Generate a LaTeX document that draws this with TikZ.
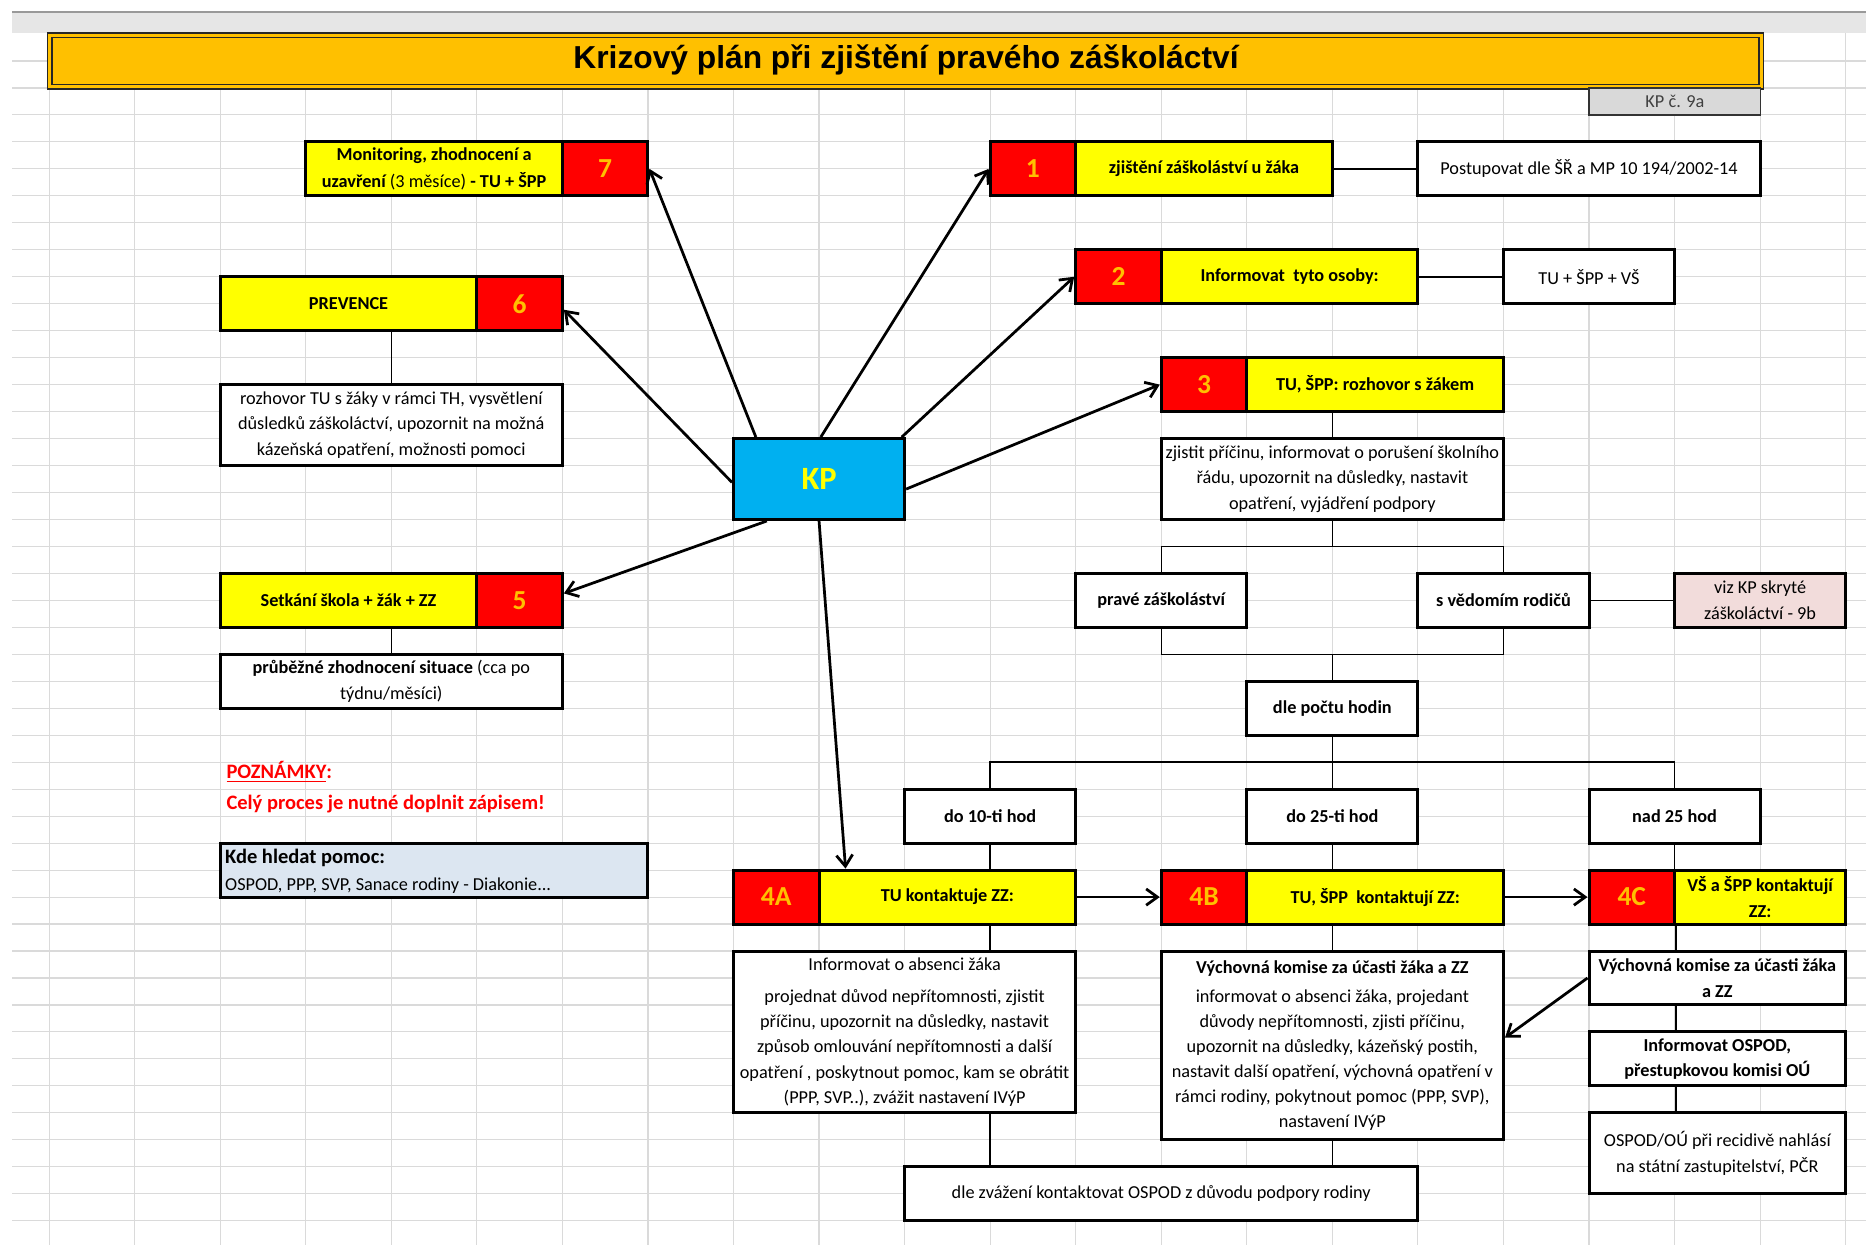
\documentclass[tikz,border=0pt]{standalone}
\usepackage{fontspec}
\setmainfont{Carlito}
\newfontfamily\titlefont{Liberation Sans}
\usetikzlibrary{arrows.meta,calc}
\definecolor{cyel}{HTML}{FFFF00}
\definecolor{cred}{HTML}{FF0000}
\definecolor{corange}{HTML}{FFC000}
\definecolor{ckp}{HTML}{00B0F0}
\definecolor{cpink}{HTML}{F2DCDB}
\definecolor{chelp}{HTML}{DCE6F1}
\definecolor{cgray}{HTML}{D9D9D9}
\definecolor{gridc}{HTML}{DADADA}
\definecolor{cband}{HTML}{E6E6E6}
\pgfdeclarelayer{bg}
\pgfsetlayers{bg,main}
\newcommand\gx[1]{49.1+85.55*(#1)}
\newcommand\gy[1]{61+26.97*(#1)}
\newcommand\cellnode[7]{\node[#2, minimum width={34.22pt*((#5)-(#3))}, minimum height={10.788pt*((#6)-(#4))}] (#1) at ({49.1+85.55*((#3)+(#5))/2},{61+26.97*((#4)+(#6))/2}) {#7};}
\tikzset{
 gridline/.style={draw=gridc, line width=0.45pt},
 bx/.style={draw=black, line width=1.2pt, fill=white, inner sep=0pt, align=center, font=\fontsize{7.3}{10.2}\selectfont},
 bxb/.style={bx, font=\fontsize{7.3}{10.2}\selectfont\bfseries},
 yb/.style={bx, fill=cyel, font=\fontsize{7.3}{10.5}\selectfont\bfseries},
 rb/.style={bx, fill=cred, text=corange, font=\fontsize{11}{13}\selectfont\bfseries},
 conn/.style={draw=black, line width=0.6pt},
 arr/.style={draw=black, line width=1.1pt, -{Straight Barb[length=4.5pt,width=6.5pt]}},
}
\begin{document}
\begin{tikzpicture}[x=0.4pt,y=-0.4pt]
\useasboundingbox (0,0) rectangle (1866,1245);
% title
\node[draw=black!85, line width=0.6pt, double=corange, double distance=1.2pt, fill=corange, minimum width=684.4pt, minimum height=20.6pt, inner sep=0pt] (titlebox) at (905.5,61.25) {};
\node[font=\titlefont\fontsize{12.7}{14}\selectfont\bfseries, inner sep=0pt] (title) at (906,60) {Krizový plán při zjištění pravého záškoláctví};
\node[draw=black!80, line width=0.7pt, fill=cgray, minimum width=68.44pt, minimum height=10.8pt, inner sep=0pt, text=black!75, font=\fontsize{7.3}{9}\selectfont] (kp9a) at (1674.9,101.5) {KP č. 9a};
% left column
\cellnode{y7}{yb}{3}{3}{6}{5}{Monitoring, zhodnocení a\\uzavření {\mdseries(3 měsíce)} - TU + ŠPP}
\cellnode{n7}{rb}{6}{3}{7}{5}{7}
\cellnode{y6}{yb}{2}{8}{5}{10}{PREVENCE}
\cellnode{n6}{rb}{5}{8}{6}{10}{6}
\cellnode{t6}{bx}{2}{12}{6}{15}{rozhovor TU s žáky v rámci TH, vysvětlení\\důsledků záškoláctví, upozornit na možná\\kázeňská opatření, možnosti pomoci}
\cellnode{y5}{yb}{2}{19}{5}{21}{Setkání škola + žák + ZZ}
\cellnode{n5}{rb}{5}{19}{6}{21}{5}
\cellnode{t5}{bx}{2}{22}{6}{24}{\textbf{průběžné zhodnocení situace} (cca po\\týdnu/měsíci)}
\node[anchor=west, inner sep=0pt, text=cred, font=\fontsize{8.2}{10}\selectfont\bfseries] (poz) at (226,772) {\underline{POZNÁMKY}:};
\node[anchor=west, inner sep=0pt, text=cred, font=\fontsize{8.2}{10}\selectfont\bfseries] (cely) at (226,804) {Celý proces je nutné doplnit zápisem!};
\cellnode{help}{bx, fill=chelp}{2}{29}{7}{31}{}
\node[anchor=west, inner sep=0pt, font=\fontsize{8.2}{10}\selectfont\bfseries] (helph) at ($(help.west)+(6,-12)$) {Kde hledat pomoc:};
\node[anchor=west, inner sep=0pt, font=\fontsize{7.3}{10}\selectfont] (helpt) at ($(help.west)+(6,16)$) {OSPOD, PPP, SVP, Sanace rodiny - Diakonie...};
% KP
\cellnode{kp}{bx, fill=ckp, text=cyel, font=\fontsize{13}{15}\selectfont\bfseries}{8}{14}{10}{17}{KP}
% right side
\cellnode{n1}{rb}{11}{3}{12}{5}{1}
\cellnode{y1}{yb}{12}{3}{15}{5}{zjištění záškoláství u žáka}
\cellnode{p1}{bx}{16}{3}{20}{5}{Postupovat dle ŠŘ a MP 10 194/2002-14}
\cellnode{n2}{rb}{12}{7}{13}{9}{2}
\cellnode{y2}{yb}{13}{7}{16}{9}{Informovat~ tyto osoby:}
\cellnode{p2}{bx}{17}{7}{19}{9}{TU + ŠPP + VŠ}
\cellnode{n3}{rb}{13}{11}{14}{13}{3}
\cellnode{y3}{yb}{14}{11}{17}{13}{TU, ŠPP: rozhovor s žákem}
\cellnode{t3}{bx}{13}{14}{17}{17}{zjistit příčinu, informovat o porušení školního\\řádu, upozornit na důsledky, nastavit\\opatření, vyjádření podpory}
\cellnode{pz}{bxb}{12}{19}{14}{21}{pravé záškoláství}
\cellnode{sv}{bxb}{16}{19}{18}{21}{s vědomím rodičů}
\cellnode{viz}{bx, fill=cpink, font=\fontsize{7.3}{10.5}\selectfont}{19}{19}{21}{21}{viz KP skryté\\záškoláctví - 9b}
\cellnode{dph}{bxb}{14}{23}{16}{25}{dle počtu hodin}
\cellnode{h10}{bxb}{10}{27}{12}{29}{do 10-ti hod}
\cellnode{h25}{bxb}{14}{27}{16}{29}{do 25-ti hod}
\cellnode{h25n}{bxb}{18}{27}{20}{29}{nad 25 hod}
\cellnode{n4a}{rb}{8}{30}{9}{32}{4A}
\cellnode{y4a}{yb}{9}{30}{12}{32}{TU kontaktuje ZZ:}
\cellnode{n4b}{rb}{13}{30}{14}{32}{4B}
\cellnode{y4b}{yb}{14}{30}{17}{32}{TU, ŠPP~ kontaktují ZZ:}
\cellnode{n4c}{rb}{18}{30}{19}{32}{4C}
\cellnode{y4c}{yb}{19}{30}{21}{32}{VŠ a ŠPP kontaktují\\ZZ:}
\cellnode{s4a}{bx, font=\fontsize{7.3}{10.1}\selectfont}{8}{33}{12}{39}{Informovat o absenci žáka\\[2.8pt]projednat důvod nepřítomnosti, zjistit\\příčinu, upozornit na důsledky, nastavit\\způsob omlouvání nepřítomnosti a další\\opatření , poskytnout pomoc, kam se obrátit\\(PPP, SVP..), zvážit nastavení IVýP}
\cellnode{s4b}{bx, font=\fontsize{7.3}{10}\selectfont}{13}{33}{17}{40}{\textbf{Výchovná komise za účasti žáka a ZZ}\\[1.8pt]informovat o absenci žáka, projedant\\důvody nepřítomnosti, zjisti příčinu,\\upozornit na důsledky, kázeňský postih,\\nastavit další opatření, výchovná opatření v\\rámci rodiny, pokytnout pomoc (PPP, SVP),\\nastavení IVýP}
\cellnode{s4c1}{bxb, font=\fontsize{7.3}{10.5}\selectfont\bfseries}{18}{33}{21}{35}{Výchovná komise za účasti žáka\\a ZZ}
\cellnode{s4c2}{bxb, font=\fontsize{7.3}{10}\selectfont\bfseries}{18}{36}{21}{38}{Informovat OSPOD,\\přestupkovou komisi OÚ}
\cellnode{s4c3}{bx, font=\fontsize{7.3}{10.5}\selectfont}{18}{39}{21}{42}{OSPOD/OÚ při recidivě nahlásí\\na státní zastupitelství, PČR}
\cellnode{dz}{bx}{10}{41}{16}{43}{dle zvážení kontaktovat OSPOD z důvodu podpory rodiny}
% background: grid, band, thin connectors
\begin{pgfonlayer}{bg}
\foreach \k in {0,...,21} \draw[gridline] ({\gx{\k}},33) -- ({\gx{\k}},1245);
\foreach \j in {0,...,43} \draw[gridline] (12,{\gy{\j}}) -- (1866,{\gy{\j}});
\fill[cband] (12,12) rectangle (1866,33);
\draw[draw=black!40, line width=0.8pt] (12,12) -- (1866,12);
\draw[conn] (y1.east) -- (p1.west);
\draw[conn] (y2.east) -- (p2.west);
\draw[conn] (t6.north) -- (t6.north |- y6.south);
\draw[conn] (t5.north) -- (t5.north |- y5.south);
\draw[conn] (t3.north) -- (t3.north |- y3.south);
\coordinate (b1) at ({\gx{15}},{\gy{18}});
\draw[conn] (t3.south) -- (b1);
\draw[conn] (pz.north) |- (b1);
\draw[conn] (sv.north) |- (b1);
\draw[conn] (sv.east) -- (viz.west);
\coordinate (b2) at ({\gx{15}},{\gy{22}});
\draw[conn] (pz.south) |- (b2);
\draw[conn] (sv.south) |- (b2);
\draw[conn] (b2) -- (dph.north);
\coordinate (b3) at ({\gx{15}},{\gy{26}});
\draw[conn] (dph.south) -- (h25.north);
\draw[conn] (h10.north) |- (b3);
\draw[conn] (h25n.north) |- (b3);
\draw[conn] (h10.south) -- (h10.south |- y4a.north);
\draw[conn] (h25.south) -- (h25.south |- y4b.north);
\draw[conn] (h25n.south) -- (h25n.south |- y4c.north);
\draw[conn] (h10.south |- y4a.south) -- (h10.south |- s4a.north);
\draw[conn] (h25.south |- y4b.south) -- (h25.south |- s4b.north);
\draw[conn] (n4c.south east) -- (n4c.south east |- s4c1.north);
\draw[conn] (n4c.south east |- s4c1.south) -- (n4c.south east |- s4c2.north);
\draw[conn] (n4c.south east |- s4c2.south) -- (n4c.south east |- s4c3.north);
\draw[conn] (h10.south |- s4a.south) -- (h10.south |- dz.north);
\draw[conn] (s4b.south) -- (s4b.south |- dz.north);
\end{pgfonlayer}
% thick arrows
\draw[arr] ($(kp.north west)!0.137!(kp.north east)$) -- (n7.east);
\draw[arr] ($(kp.north west)!0.54!(kp.south west)$) -- ($(n6.east)+(0,6)$);
\draw[arr] ($(kp.south west)!0.2!(kp.south east)$) -- ($(n5.east)+(0,-7)$);
\draw[arr] ($(kp.north west)!0.51!(kp.north east)$) -- (n1.west);
\draw[arr] ($(kp.north west)!0.975!(kp.north east)$) -- (n2.west);
\draw[arr] ($(kp.north east)!0.62!(kp.south east)$) -- (n3.west);
\draw[arr] (kp.south) -- ($(y4a.north west)+(28,0)$);
\draw[arr] (y4a.east) -- (n4b.west);
\draw[arr] (y4b.east) -- (n4c.west);
\draw[arr] (s4c1.west) -- ($(s4b.north east)!0.46!(s4b.south east)$);
\end{tikzpicture}
\end{document}
